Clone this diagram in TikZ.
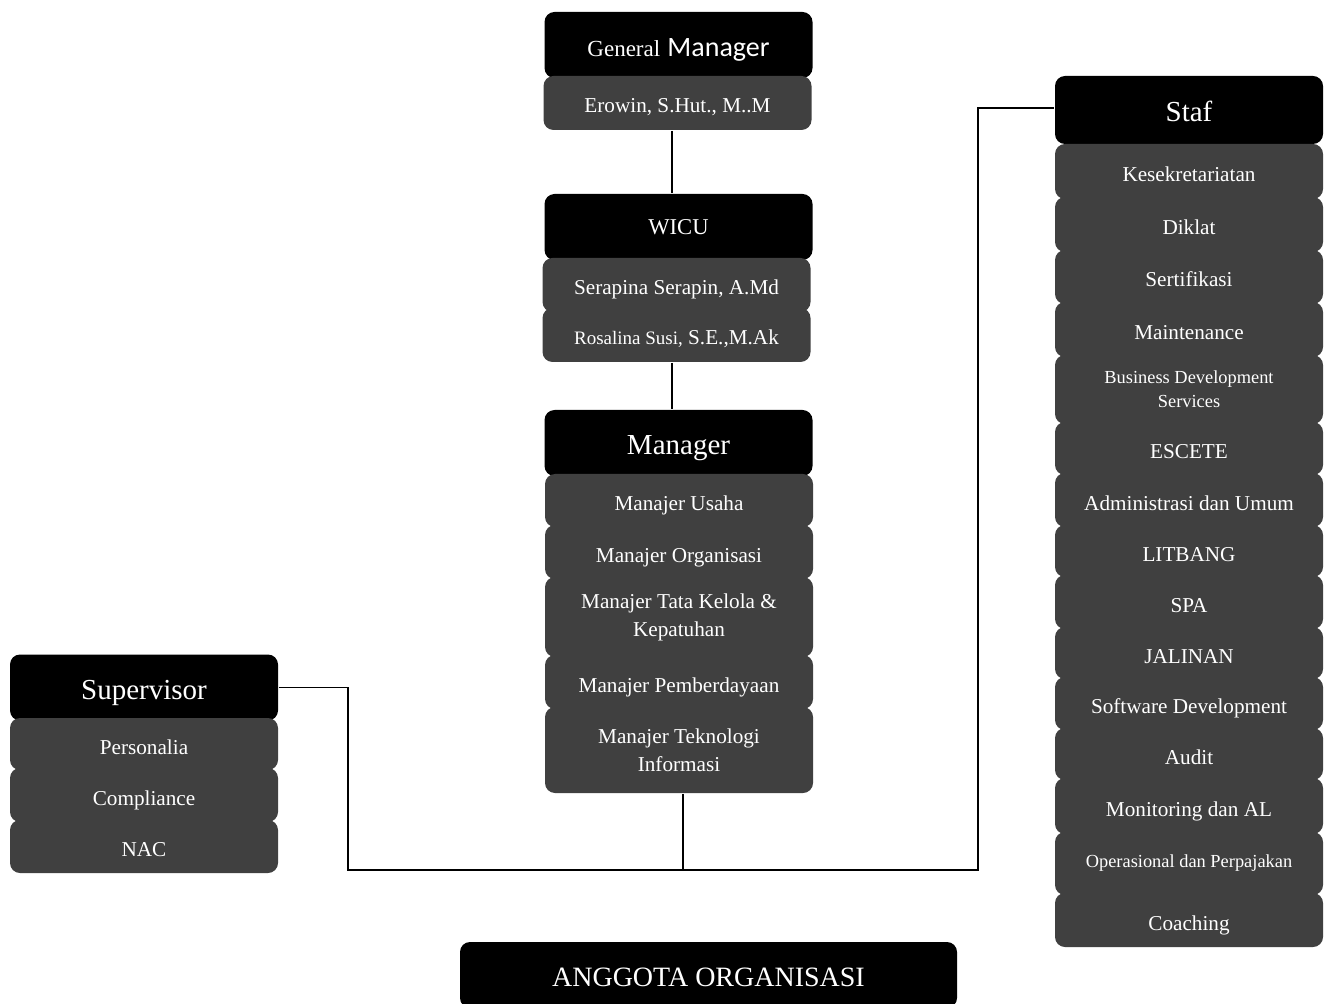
\documentclass[tikz,border=0pt]{standalone}
\usepackage{fontspec}
\setmainfont{Liberation Serif}
\newfontfamily\calfont{Carlito}
\definecolor{boxgray}{RGB}{64,64,64}

\begin{document}
\begin{tikzpicture}[x=0.5pt,y=-0.5pt,line width=0.8pt]
   \useasboundingbox (0,0) rectangle (1325,1004);
   \tikzstyle{head}=[rectangle, rounded corners=5pt, fill=black, text=white, minimum width=134pt, minimum height=33pt, inner sep=0pt, text height=11.6pt, text depth=0pt, font=\fontsize{14.5}{17}\selectfont]
   \tikzstyle{item}=[rectangle, rounded corners=5pt, fill=boxgray, text=white, minimum width=134pt, inner sep=0pt, align=center, font=\fontsize{10.6}{14}\selectfont]
   \tikzstyle{one}=[text height=10pt, text depth=0pt]
   \tikzstyle{two}=[text height=, text depth=]
   % top of the chart
   \node[head] (gm) at (678.5,45) {{\fontsize{11.5}{14}\selectfont General} {\calfont\fontsize{14}{17}\selectfont Manager}};
   \node[item, one, minimum height=27pt] (gmname) at (677.5,103) {Erowin, S.Hut., M..M};
   \node[head, two, font=\fontsize{11.3}{14}\selectfont] (wicu) at (678.5,227) {WICU};
   \node[item, one, minimum height=27pt] (wicua) at (676.5,285) {Serapina Serapin, A.Md};
   \node[item, one, minimum height=27pt] (wicub) at (676.5,335) {{\fontsize{9.5}{12}\selectfont Rosalina Susi,} S.E.,M.Ak};
   \node[head] (mgr) at (678.5,443) {Manager};
   \foreach \n/\txt/\top/\bot/\st in {usaha/Manajer Usaha/474/525/one, org/Manajer Organisasi/525/577/one, tata/{Manajer Tata Kelola \&\\Kepatuhan}/577/655/two, daya/Manajer Pemberdayaan/655/707/one, tek/{Manajer Teknologi\\Informasi}/707/791/two} {
       \pgfmathsetmacro\h{(\bot-\top+2)*0.5}
       \node[item, \st, minimum height=\h pt] (\n) at (679,{(\top+\bot)/2+1}) {\txt};
   }
   % left column
   \node[head] (sup) at (144,687.5) {Supervisor};
   \foreach \n/\txt/\top/\bot in {personalia/Personalia/718/768, compliance/Compliance/768/820, nac/NAC/820/871} {
       \pgfmathsetmacro\h{(\bot-\top+2)*0.5}
       \node[item, one, minimum height=\h pt] (\n) at (144,{(\top+\bot)/2+1}) {\txt};
   }
   % right column
   \node[head, minimum height=34pt] (staf) at (1189,110) {Staf};
   \foreach \n/\txt/\top/\bot/\fs/\st in {kesek/Kesekretariatan/144/197/10.6/one, diklat/Diklat/197/250/10.6/one, sert/Sertifikasi/250/302/10.6/one, maint/Maintenance/302/355/10.6/one, bds/{Business Development\\Services}/355/422/9.2/two, escete/ESCETE/422/473/10.6/one, admin/Administrasi dan Umum/473/525/10.6/one, litbang/LITBANG/525/575/10.6/one, spa/SPA/575/627/10.6/one, jalinan/JALINAN/627/677/10.6/one, soft/Software Development/677/728/10.6/one, audit/Audit/728/778/10.6/one, monit/Monitoring dan AL/778/832/10.6/one, opr/Operasional dan Perpajakan/832/893/9.2/two, coach/Coaching/893/945/10.6/one} {
       \pgfmathsetmacro\h{(\bot-\top+2)*0.5}
       \node[item, \st, minimum height=\h pt, font=\fontsize{\fs}{12}\selectfont] (\n) at (1189,{(\top+\bot)/2+1}) {\txt};
   }
   \node[head, minimum width=248.5pt, font=\fontsize{14}{17}\selectfont] (anggota) at (708.5,975) {ANGGOTA ORGANISASI};
   % connectors
   \coordinate (jl) at (348,870);
   \coordinate (jr) at (978,870);
   \draw ([xshift=-2.75pt]gmname.south) -- ([xshift=-2.75pt]gmname.south |- wicu.north);
   \draw ([xshift=-2.25pt]wicub.south) -- ([xshift=-2.25pt]wicub.south |- mgr.north);
   \draw ([xshift=2pt]tek.south) -- ([xshift=2pt]tek.south |- jl);
   \draw (sup.east) -| (jl) -- (jr) |- ([yshift=1pt]staf.west);
\end{tikzpicture}
\end{document}
